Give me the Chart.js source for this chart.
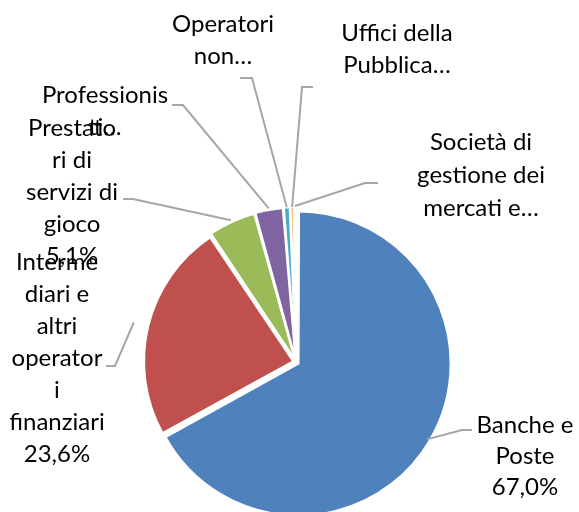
<!DOCTYPE html>
<html>
<head>
<meta charset="utf-8">
<script src="https://cdn.jsdelivr.net/npm/chart.js@4.4.0/dist/chart.umd.min.js"></script>
<style>
html, body { margin: 0; padding: 0; background: #fff; }
#contenitore { width: 579px; height: 512px; }
</style>
</head>
<body>
<div id="contenitore"><canvas id="grafico" width="579" height="512"></canvas></div>
<script>
var categorie = ['Banche e Poste', 'Intermediari e altri operatori finanziari', 'Prestatori di servizi di gioco', 'Professionisti', 'Operatori non finanziari', 'Uffici della Pubblica Amministrazione', 'Società di gestione dei mercati e degli strumenti finanziari'];
var valori = [67.0, 23.6, 5.1, 3.0, 0.7, 0.4, 0.2];
var colori = ['#4F81BD', '#C0504D', '#9BBB59', '#8064A2', '#4BACC6', '#F79646', '#2C4D75'];
// etichette come compaiono nel grafico (spezzate e troncate)
var etichette = [
    ['Banche e', 'Poste'],
    ['Interme', 'diari e', 'altri', 'operator', 'i', 'finanziari'],
    ['Prestato', 'ri di', 'servizi di', 'gioco'],
    ['Professionis', 'ti…'],
    ['Operatori', 'non…'],
    ['Uffici della', 'Pubblica…'],
    ['Società di', 'gestione dei', 'mercati e…']
];
var mostraPerc = [true, true, true, false, false, false, false];

// posizione di gomito, fine linea e testo rispetto al centro della torta
var posEtichette = [
    {gap: 0,  gx: 166,  gy: 68,   ex: 176,  tx: 229,  ty: 63,   lh: 31},
    {gap: 15, gx: -181, gy: 4,    ex: -190, tx: -239, ty: -100, lh: 32},
    {gap: 4,  gx: -163, gy: -163, ex: -173, tx: -224, ty: -234, lh: 32},
    {gap: 4,  gx: -113, gy: -257, ex: -124, tx: -191, ty: -267, lh: 32},
    {gap: 3,  gx: -44,  gy: -284, ex: -56,  tx: -73,  ty: -338, lh: 32},
    {gap: 3,  gx: 6,    gy: -275, ex: 17,   tx: 101,  ty: -329, lh: 32},
    {gap: 4,  gx: 69,   gy: -179, ex: 82,   tx: 185,  ty: -220, lh: 33}
];

var etichettePlugin = {
    id: 'etichette',
    afterDatasetsDraw: function (chart) {
        var ctx = chart.ctx;
        var archi = chart.getDatasetMeta(0).data;
        ctx.save();
        ctx.strokeStyle = '#A6A6A6';
        ctx.lineWidth = 2;
        archi.forEach(function (arco, i) {
            var p = posEtichette[i];
            var medio = (arco.startAngle + arco.endAngle) / 2;
            var r = arco.outerRadius + (arco.options.offset || 0) / 4 + p.gap;
            ctx.beginPath();
            ctx.moveTo(arco.x + Math.cos(medio) * r, arco.y + Math.sin(medio) * r);
            ctx.lineTo(arco.x + p.gx, arco.y + p.gy);
            ctx.lineTo(arco.x + p.ex, arco.y + p.gy);
            ctx.stroke();
        });
        ctx.font = '24px Lato';
        ctx.fillStyle = '#000';
        ctx.textAlign = 'center';
        ctx.textBaseline = 'middle';
        archi.forEach(function (arco, i) {
            var p = posEtichette[i];
            var righe = etichette[i].slice();
            if (mostraPerc[i]) {
                righe.push(valori[i].toFixed(1).replace('.', ',') + '%');
            }
            righe.forEach(function (riga, k) {
                ctx.fillText(riga, arco.x + p.tx, arco.y + p.ty + k * p.lh);
            });
        });
        ctx.restore();
    }
};

var contesto = document.getElementById('grafico').getContext('2d');
var grafico = new Chart(contesto, {
    type: 'pie',
    data: {
        labels: categorie,
        datasets: [{
            data: valori,
            backgroundColor: colori,
            borderColor: '#fff',
            borderWidth: 2,
            offset: 12
        }]
    },
    options: {
        responsive: false,
        animation: false,
        radius: 149,
        layout: { padding: { left: 13, right: 0, top: 212, bottom: 0 } },
        plugins: {
            legend: { display: false },
            tooltip: { enabled: false }
        }
    },
    plugins: [etichettePlugin]
});
</script>
</body>
</html>
